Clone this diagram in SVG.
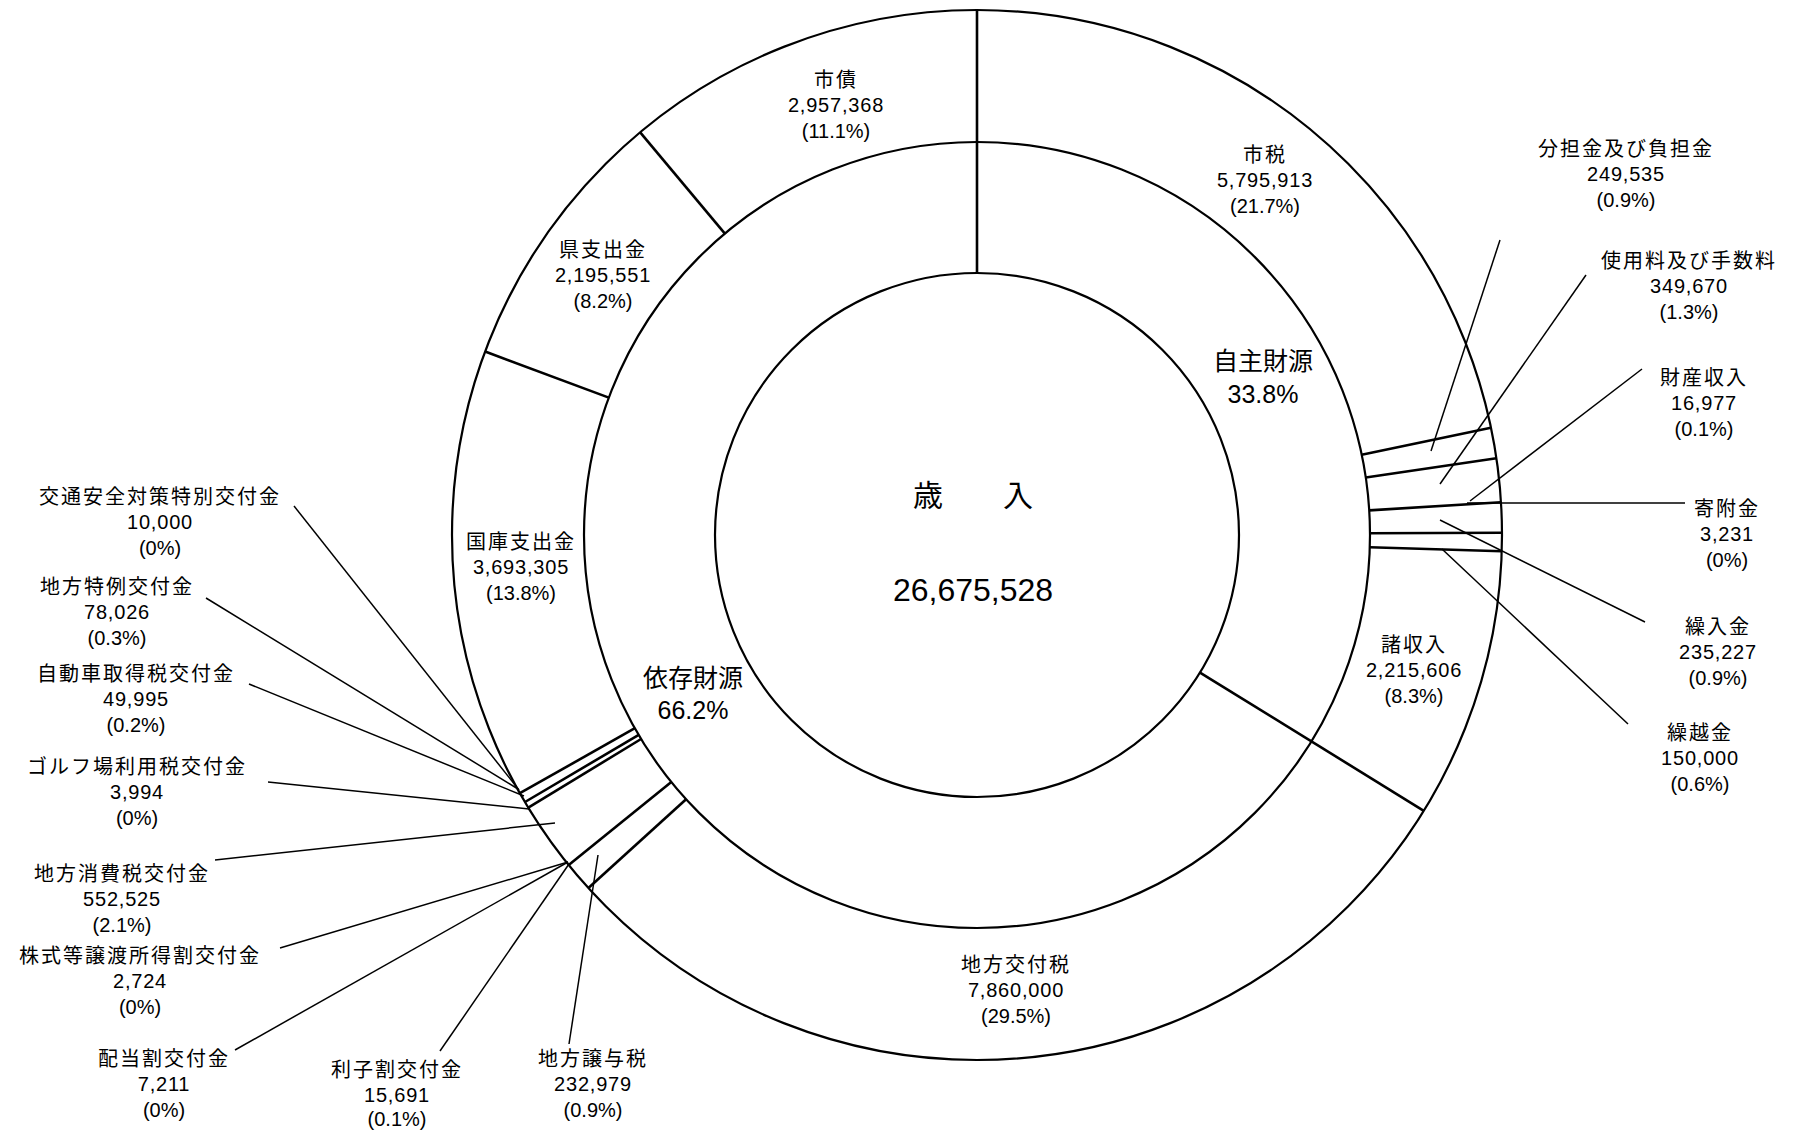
<svg xmlns="http://www.w3.org/2000/svg" width="1794" height="1130" viewBox="0 0 1794 1130">
<style>
.ring{fill:none;stroke:#000;stroke-width:2.2}
.seg{stroke:#000;stroke-width:2.6;fill:none}
.ld{stroke:#000;stroke-width:1.5;fill:none}
text{font-family:"Noto Sans CJK JP","Noto Sans",sans-serif;fill:#000;text-anchor:middle}
.lb{font-size:20px}
.nm{letter-spacing:2px}
.nu{font-family:"Liberation Sans",Arial,sans-serif;letter-spacing:0.8px}
.pc{font-family:"Liberation Sans",Arial,sans-serif}
.big{font-size:25px}
</style>
<rect width="1794" height="1130" fill="#fff"/>
<g id="rings">
<circle class="ring" cx="977" cy="535" r="525"/>
<circle class="ring" cx="977" cy="535" r="393"/>
<circle class="ring" cx="977" cy="535" r="262"/>
</g>
<g id="connectors">
<line class="seg" x1="977" y1="273" x2="977" y2="10"/>
<line class="seg" x1="1200.0" y1="672.6" x2="1423.8" y2="810.8"/>
<line class="seg" x1="1361.7" y1="454.8" x2="1490.9" y2="427.8"/>
<line class="seg" x1="1365.8" y1="477.5" x2="1496.4" y2="458.2"/>
<line class="seg" x1="1369.2" y1="510.4" x2="1501.0" y2="502.2"/>
<line class="seg" x1="1370" y1="533.3" x2="1502" y2="532.7"/>
<line class="seg" x1="1369.8" y1="547.2" x2="1501.7" y2="551.3"/>
<line class="seg" x1="686.1" y1="799.3" x2="588.4" y2="888.0"/>
<line class="seg" x1="671.3" y1="782.1" x2="568.7" y2="865.1"/>
<line class="seg" x1="641.1" y1="739.0" x2="528.3" y2="807.6"/>
<line class="seg" x1="638.7" y1="734.9" x2="525.0" y2="802.0"/>
<line class="seg" x1="634.9" y1="728.2" x2="519.9" y2="793.2"/>
<line class="seg" x1="608.8" y1="397.6" x2="485.1" y2="351.5"/>
<line class="seg" x1="724.9" y1="233.6" x2="640.2" y2="132.3"/>
<line class="ld" x1="1500" y1="240" x2="1431" y2="451"/>
<line class="ld" x1="1586" y1="275" x2="1440" y2="484"/>
<line class="ld" x1="1642" y1="369" x2="1470" y2="501"/>
<line class="ld" x1="1467" y1="503" x2="1685" y2="503"/>
<line class="ld" x1="1440" y1="520" x2="1645" y2="622"/>
<line class="ld" x1="1442" y1="549" x2="1628" y2="724"/>
<line class="ld" x1="294" y1="506" x2="519" y2="790"/>
<line class="ld" x1="206" y1="598" x2="518" y2="789"/>
<line class="ld" x1="249" y1="684" x2="524" y2="796"/>
<line class="ld" x1="268" y1="782" x2="529" y2="809"/>
<line class="ld" x1="215" y1="860" x2="555" y2="823"/>
<line class="ld" x1="280" y1="948" x2="568" y2="862"/>
<line class="ld" x1="235" y1="1050" x2="568" y2="862"/>
<line class="ld" x1="440" y1="1051" x2="569" y2="864"/>
<line class="ld" x1="569" y1="1044" x2="598" y2="855"/>
</g>
<g id="center">
<text x="973" y="506" font-size="30">歳　　入</text>
<text class="pc" x="973" y="601" font-size="32">26,675,528</text>
</g>
<g id="jishu"><text class="big" x="1263" y="370">自主財源</text><text class="big pc" x="1263" y="403">33.8%</text></g>
<g id="izon"><text class="big" x="693" y="687">依存財源</text><text class="big pc" x="693" y="719">66.2%</text></g>
<g id="shisai"><text class="lb" x="836" y="87"><tspan class="nm" x="836">市債</tspan><tspan class="nu" x="836" dy="25">2,957,368</tspan><tspan class="pc" x="836" dy="26">(11.1%)</tspan></text></g>
<g id="shizei"><text class="lb" x="1265" y="162"><tspan class="nm" x="1265">市税</tspan><tspan class="nu" x="1265" dy="25">5,795,913</tspan><tspan class="pc" x="1265" dy="26">(21.7%)</tspan></text></g>
<g id="ken"><text class="lb" x="603" y="257"><tspan class="nm" x="603">県支出金</tspan><tspan class="nu" x="603" dy="25">2,195,551</tspan><tspan class="pc" x="603" dy="26">(8.2%)</tspan></text></g>
<g id="kokko"><text class="lb" x="521" y="549"><tspan class="nm" x="521">国庫支出金</tspan><tspan class="nu" x="521" dy="25">3,693,305</tspan><tspan class="pc" x="521" dy="26">(13.8%)</tspan></text></g>
<g id="shoshu"><text class="lb" x="1414" y="652"><tspan class="nm" x="1414">諸収入</tspan><tspan class="nu" x="1414" dy="25">2,215,606</tspan><tspan class="pc" x="1414" dy="26">(8.3%)</tspan></text></g>
<g id="kofuzei"><text class="lb" x="1016" y="972"><tspan class="nm" x="1016">地方交付税</tspan><tspan class="nu" x="1016" dy="25">7,860,000</tspan><tspan class="pc" x="1016" dy="26">(29.5%)</tspan></text></g>
<g id="buntan"><text class="lb" x="1626" y="156"><tspan class="nm" x="1626">分担金及び負担金</tspan><tspan class="nu" x="1626" dy="25">249,535</tspan><tspan class="pc" x="1626" dy="26">(0.9%)</tspan></text></g>
<g id="shiyo"><text class="lb" x="1689" y="268"><tspan class="nm" x="1689">使用料及び手数料</tspan><tspan class="nu" x="1689" dy="25">349,670</tspan><tspan class="pc" x="1689" dy="26">(1.3%)</tspan></text></g>
<g id="zaisan"><text class="lb" x="1704" y="385"><tspan class="nm" x="1704">財産収入</tspan><tspan class="nu" x="1704" dy="25">16,977</tspan><tspan class="pc" x="1704" dy="26">(0.1%)</tspan></text></g>
<g id="kifu"><text class="lb" x="1727" y="516"><tspan class="nm" x="1727">寄附金</tspan><tspan class="nu" x="1727" dy="25">3,231</tspan><tspan class="pc" x="1727" dy="26">(0%)</tspan></text></g>
<g id="kuriire"><text class="lb" x="1718" y="634"><tspan class="nm" x="1718">繰入金</tspan><tspan class="nu" x="1718" dy="25">235,227</tspan><tspan class="pc" x="1718" dy="26">(0.9%)</tspan></text></g>
<g id="kurikoshi"><text class="lb" x="1700" y="740"><tspan class="nm" x="1700">繰越金</tspan><tspan class="nu" x="1700" dy="25">150,000</tspan><tspan class="pc" x="1700" dy="26">(0.6%)</tspan></text></g>
<g id="kotsu"><text class="lb" x="160" y="504"><tspan class="nm" x="160">交通安全対策特別交付金</tspan><tspan class="nu" x="160" dy="25">10,000</tspan><tspan class="pc" x="160" dy="26">(0%)</tspan></text></g>
<g id="tokurei"><text class="lb" x="117" y="594"><tspan class="nm" x="117">地方特例交付金</tspan><tspan class="nu" x="117" dy="25">78,026</tspan><tspan class="pc" x="117" dy="26">(0.3%)</tspan></text></g>
<g id="jidosha"><text class="lb" x="136" y="681"><tspan class="nm" x="136">自動車取得税交付金</tspan><tspan class="nu" x="136" dy="25">49,995</tspan><tspan class="pc" x="136" dy="26">(0.2%)</tspan></text></g>
<g id="golf"><text class="lb" x="137" y="774"><tspan class="nm" x="137">ゴルフ場利用税交付金</tspan><tspan class="nu" x="137" dy="25">3,994</tspan><tspan class="pc" x="137" dy="26">(0%)</tspan></text></g>
<g id="shohi"><text class="lb" x="122" y="881"><tspan class="nm" x="122">地方消費税交付金</tspan><tspan class="nu" x="122" dy="25">552,525</tspan><tspan class="pc" x="122" dy="26">(2.1%)</tspan></text></g>
<g id="kabushiki"><text class="lb" x="140" y="963"><tspan class="nm" x="140">株式等譲渡所得割交付金</tspan><tspan class="nu" x="140" dy="25">2,724</tspan><tspan class="pc" x="140" dy="26">(0%)</tspan></text></g>
<g id="haito"><text class="lb" x="164" y="1066"><tspan class="nm" x="164">配当割交付金</tspan><tspan class="nu" x="164" dy="25">7,211</tspan><tspan class="pc" x="164" dy="26">(0%)</tspan></text></g>
<g id="rishi"><text class="lb" x="397" y="1077"><tspan class="nm" x="397">利子割交付金</tspan><tspan class="nu" x="397" dy="25">15,691</tspan><tspan class="pc" x="397" dy="24">(0.1%)</tspan></text></g>
<g id="joyo"><text class="lb" x="593" y="1066"><tspan class="nm" x="593">地方譲与税</tspan><tspan class="nu" x="593" dy="25">232,979</tspan><tspan class="pc" x="593" dy="26">(0.9%)</tspan></text></g>
</svg>
